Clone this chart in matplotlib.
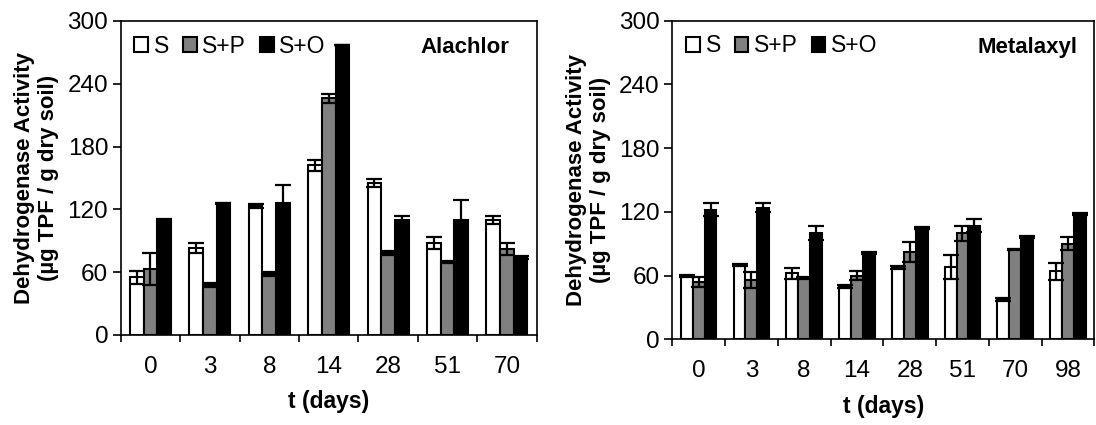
import numpy as np
import matplotlib
matplotlib.use("Agg")
import matplotlib.pyplot as plt
from matplotlib.ticker import FixedLocator, NullFormatter

plt.rcParams['font.family'] = ['Liberation Sans', 'DejaVu Sans']

# Alachlor
days_a = ['0', '3', '8', '14', '28', '51', '70']
ala_s = [55, 83, 123, 162, 145, 88, 110]
ala_s_err = [6, 5, 2, 5, 4, 6, 4]
ala_sp = [63, 48, 58, 226, 78, 70, 82]
ala_sp_err = [15, 2, 2, 4, 2, 1, 6]
ala_so = [110, 126, 126, 277, 110, 110, 74]
ala_so_err = [1, 0.5, 17.5, 0, 4, 19, 1]

# Metalaxyl
days_m = ['0', '3', '8', '14', '28', '51', '70', '98']
met_s = [60, 70, 62, 49.5, 68, 68, 37.7, 64]
met_s_err = [1, 1, 5.5, 1.5, 1.5, 11, 1.5, 8]
met_sp = [54, 56, 58, 60, 82.5, 100, 84.7, 90]
met_sp_err = [4.5, 7.5, 1, 4.4, 9.4, 7, 0.5, 6]
met_so = [122, 124, 100, 81, 105, 107, 96, 118]
met_so_err = [6, 4, 6.6, 1, 1, 6, 1, 1]

series_names = ['S', 'S+P', 'S+O']
series_colors = ['white', '#808080', 'black']

fig = plt.figure(figsize=(10.96, 4.25), dpi=100)
ax1 = fig.add_axes([0.1101, 0.2118, 0.3796, 0.7388])
ax2 = fig.add_axes([0.6134, 0.2016, 0.3851, 0.7497])


def draw_panel(ax, days, vals, errs, title, title_x, width):
    x = np.arange(len(days))
    offsets = [-width, 0, width]
    for name, color, v, e, off in zip(series_names, series_colors, vals, errs, offsets):
        ax.bar(x + off, v, width, color=color, edgecolor='black', linewidth=1.5, label=name, zorder=2)
        ax.errorbar(x + off, v, yerr=e, fmt='none', ecolor='black', elinewidth=1.6,
                    capsize=5.5, capthick=1.6, zorder=3)
    ax.set_xlim(-0.5, len(days) - 0.5)
    ax.set_ylim(0, 300)
    ax.set_yticks(range(0, 301, 60))
    ax.set_xticks(x)
    ax.set_xticklabels(days)
    ax.xaxis.set_minor_locator(FixedLocator(np.arange(len(days) + 1) - 0.5))
    ax.xaxis.set_minor_formatter(NullFormatter())
    ax.tick_params(axis='x', which='major', length=0, pad=15, labelsize=17.5)
    ax.tick_params(axis='x', which='minor', length=5, width=1.2, direction='out')
    ax.tick_params(axis='y', length=6, width=1.2, direction='out', pad=3, labelsize=17.5)
    for s in ax.spines.values():
        s.set_linewidth(1.2)
    ax.set_xlabel('t (days)', fontsize=16.5, fontweight='bold', labelpad=9)
    ax.set_ylabel('Dehydrogenase Activity\n(µg TPF / g dry soil)', fontsize=16,
                  fontweight='bold', labelpad=6, linespacing=1.2)
    ax.legend(loc='upper left', ncol=3, frameon=False, fontsize=16.5,
              handlelength=0.6, handleheight=0.6, handletextpad=0.25,
              columnspacing=0.6, borderaxespad=0.2, bbox_to_anchor=(0.0, 1.0))
    ax.text(title_x, 0.915, title, transform=ax.transAxes, ha='right', va='center',
            fontsize=16, fontweight='bold')


draw_panel(ax1, days_a, [ala_s, ala_sp, ala_so], [ala_s_err, ala_sp_err, ala_so_err],
           'Alachlor', 0.935, 0.23)
draw_panel(ax2, days_m, [met_s, met_sp, met_so], [met_s_err, met_sp_err, met_so_err],
           'Metalaxyl', 0.96, 0.225)

fig.savefig('out.png', dpi=100)
